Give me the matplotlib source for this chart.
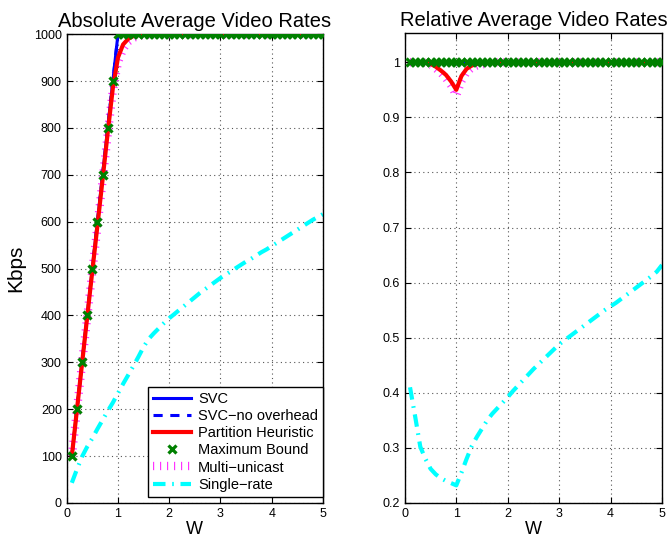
import matplotlib
matplotlib.use("Agg")
import matplotlib.pyplot as plt
from matplotlib.ticker import MultipleLocator

plt.rcParams['font.family'] = ['Liberation Sans', 'DejaVu Sans']

w = [round(0.1 * i, 1) for i in range(1, 51)]

# Absolute rates (Kbps)
svc_abs = [100, 200, 300, 400, 500, 600, 700, 800, 900] + [1000] * 41
svc_noov_abs = [100, 200, 300, 400, 500, 600, 700, 800, 900] + [1000] * 41
part_abs = [100, 199, 298, 397, 495, 592, 690, 790, 885, 950, 978, 990, 996, 998, 999] + [1000] * 35
maxb_abs = [100, 200, 300, 400, 500, 600, 700, 800, 900] + [1000] * 41
multi_abs = [100, 199, 298, 396, 494, 590, 688, 786, 880, 940, 968, 984, 992, 996, 998, 999] + [1000] * 34
single_abs = [43, 72, 99, 120, 138, 158, 177, 196, 214, 234, 254, 273, 292, 312, 333, 350, 362, 373, 384, 394,
              403, 412, 421, 430, 439, 448, 456, 464, 472, 480, 487, 494, 501, 508, 515, 521, 528, 535, 541, 548,
              555, 562, 569, 576, 583, 590, 597, 604, 610, 616]

# Relative rates
svc_rel = [1.0] * 8 + [0.999, 0.997, 0.999] + [1.0] * 39
svc_noov_rel = [1.0] * 50
part_rel = [1.0, 1.0, 1.0, 1.0, 0.997, 0.992, 0.985, 0.977, 0.965, 0.95, 0.975, 0.988, 0.994, 0.997, 0.998,
            0.999] + [1.0] * 34
maxb_rel = [1.0] * 50
multi_rel = [1.0, 1.0, 1.0, 0.999, 0.995, 0.989, 0.981, 0.971, 0.958, 0.94, 0.966, 0.982, 0.990, 0.994, 0.996,
             0.998, 0.999] + [1.0] * 33
single_rel = [0.41, 0.357, 0.302, 0.28, 0.262, 0.252, 0.245, 0.24, 0.236, 0.232, 0.255, 0.28, 0.303, 0.32, 0.335,
              0.35, 0.362, 0.372, 0.382, 0.392, 0.403, 0.413, 0.423, 0.433, 0.443, 0.452, 0.461, 0.47, 0.479, 0.488,
              0.495, 0.502, 0.509, 0.516, 0.523, 0.53, 0.537, 0.544, 0.551, 0.557, 0.563, 0.57, 0.577, 0.584, 0.591,
              0.598, 0.605, 0.612, 0.62, 0.632]

labels = ['SVC', 'SVC\u2212no overhead', 'Partition Heuristic', 'Maximum Bound', 'Multi\u2212unicast', 'Single\u2212rate']

fig = plt.figure(figsize=(6.67, 5.42), dpi=100)
ax1 = fig.add_axes([0.1, 0.072, 0.3843, 0.865])
ax2 = fig.add_axes([0.607, 0.072, 0.3855, 0.867])


def draw(ax, svc, noov, part, maxb, multi, single):
    h = []
    h += ax.plot(w, multi, color='#ff33ff', lw=6, linestyle=(0, (0.14, 0.7)), dash_capstyle='butt', zorder=2)
    h += ax.plot(w, single, color='cyan', lw=3, linestyle=(0, (3.0, 1.6, 0.4, 1.6)), zorder=2)
    h += ax.plot(w, svc, color='blue', lw=2.2, zorder=3)
    h += ax.plot(w, noov, color='blue', lw=2.2, linestyle=(0, (3, 2.5)), zorder=3)
    h += ax.plot(w, part, color='red', lw=3, zorder=4)
    h += ax.plot(w, maxb, color='#008000', lw=0, marker='x', ms=5.5, mew=2.3, zorder=5)
    multi_h, single_h, svc_h, noov_h, part_h, maxb_h = h
    return [svc_h, noov_h, part_h, maxb_h, multi_h, single_h]


def style(ax):
    ax.set_xlim(0, 5)
    ax.xaxis.set_major_locator(MultipleLocator(1))
    ax.grid(True, linestyle=(0, (1, 3)), color='#555555', lw=0.8)
    ax.tick_params(direction='in', top=True, right=True, labelsize=9, length=4)
    for s in ax.spines.values():
        s.set_linewidth(1.0)
    ax.set_xlabel('W', fontsize=13, labelpad=1)


hs = draw(ax1, svc_abs, svc_noov_abs, part_abs, maxb_abs, multi_abs, single_abs)
style(ax1)
ax1.set_ylim(0, 1000)
ax1.yaxis.set_major_locator(MultipleLocator(100))
ax1.set_ylabel('Kbps', fontsize=15, labelpad=6)
ax1.set_title('Absolute Average Video Rates', fontsize=14.5, pad=5)
leg = ax1.legend(hs, labels, loc='lower right', bbox_to_anchor=(1.0, 0.013), fontsize=10.5, borderaxespad=0,
                 handlelength=2.6, handletextpad=0.5, labelspacing=0.22, borderpad=0.35, fancybox=False,
                 framealpha=1, edgecolor='black')
leg.get_frame().set_linewidth(1.0)

draw(ax2, svc_rel, svc_noov_rel, part_rel, maxb_rel, multi_rel, single_rel)
style(ax2)
ax2.set_ylim(0.2, 1.053)
ax2.set_yticks([0.2, 0.3, 0.4, 0.5, 0.6, 0.7, 0.8, 0.9, 1.0])
ax2.set_yticklabels(['0.2', '0.3', '0.4', '0.5', '0.6', '0.7', '0.8', '0.9', '1'])
ax2.set_title('Relative Average Video Rates', fontsize=14.5, pad=5)

fig.savefig('out.png', dpi=100)
